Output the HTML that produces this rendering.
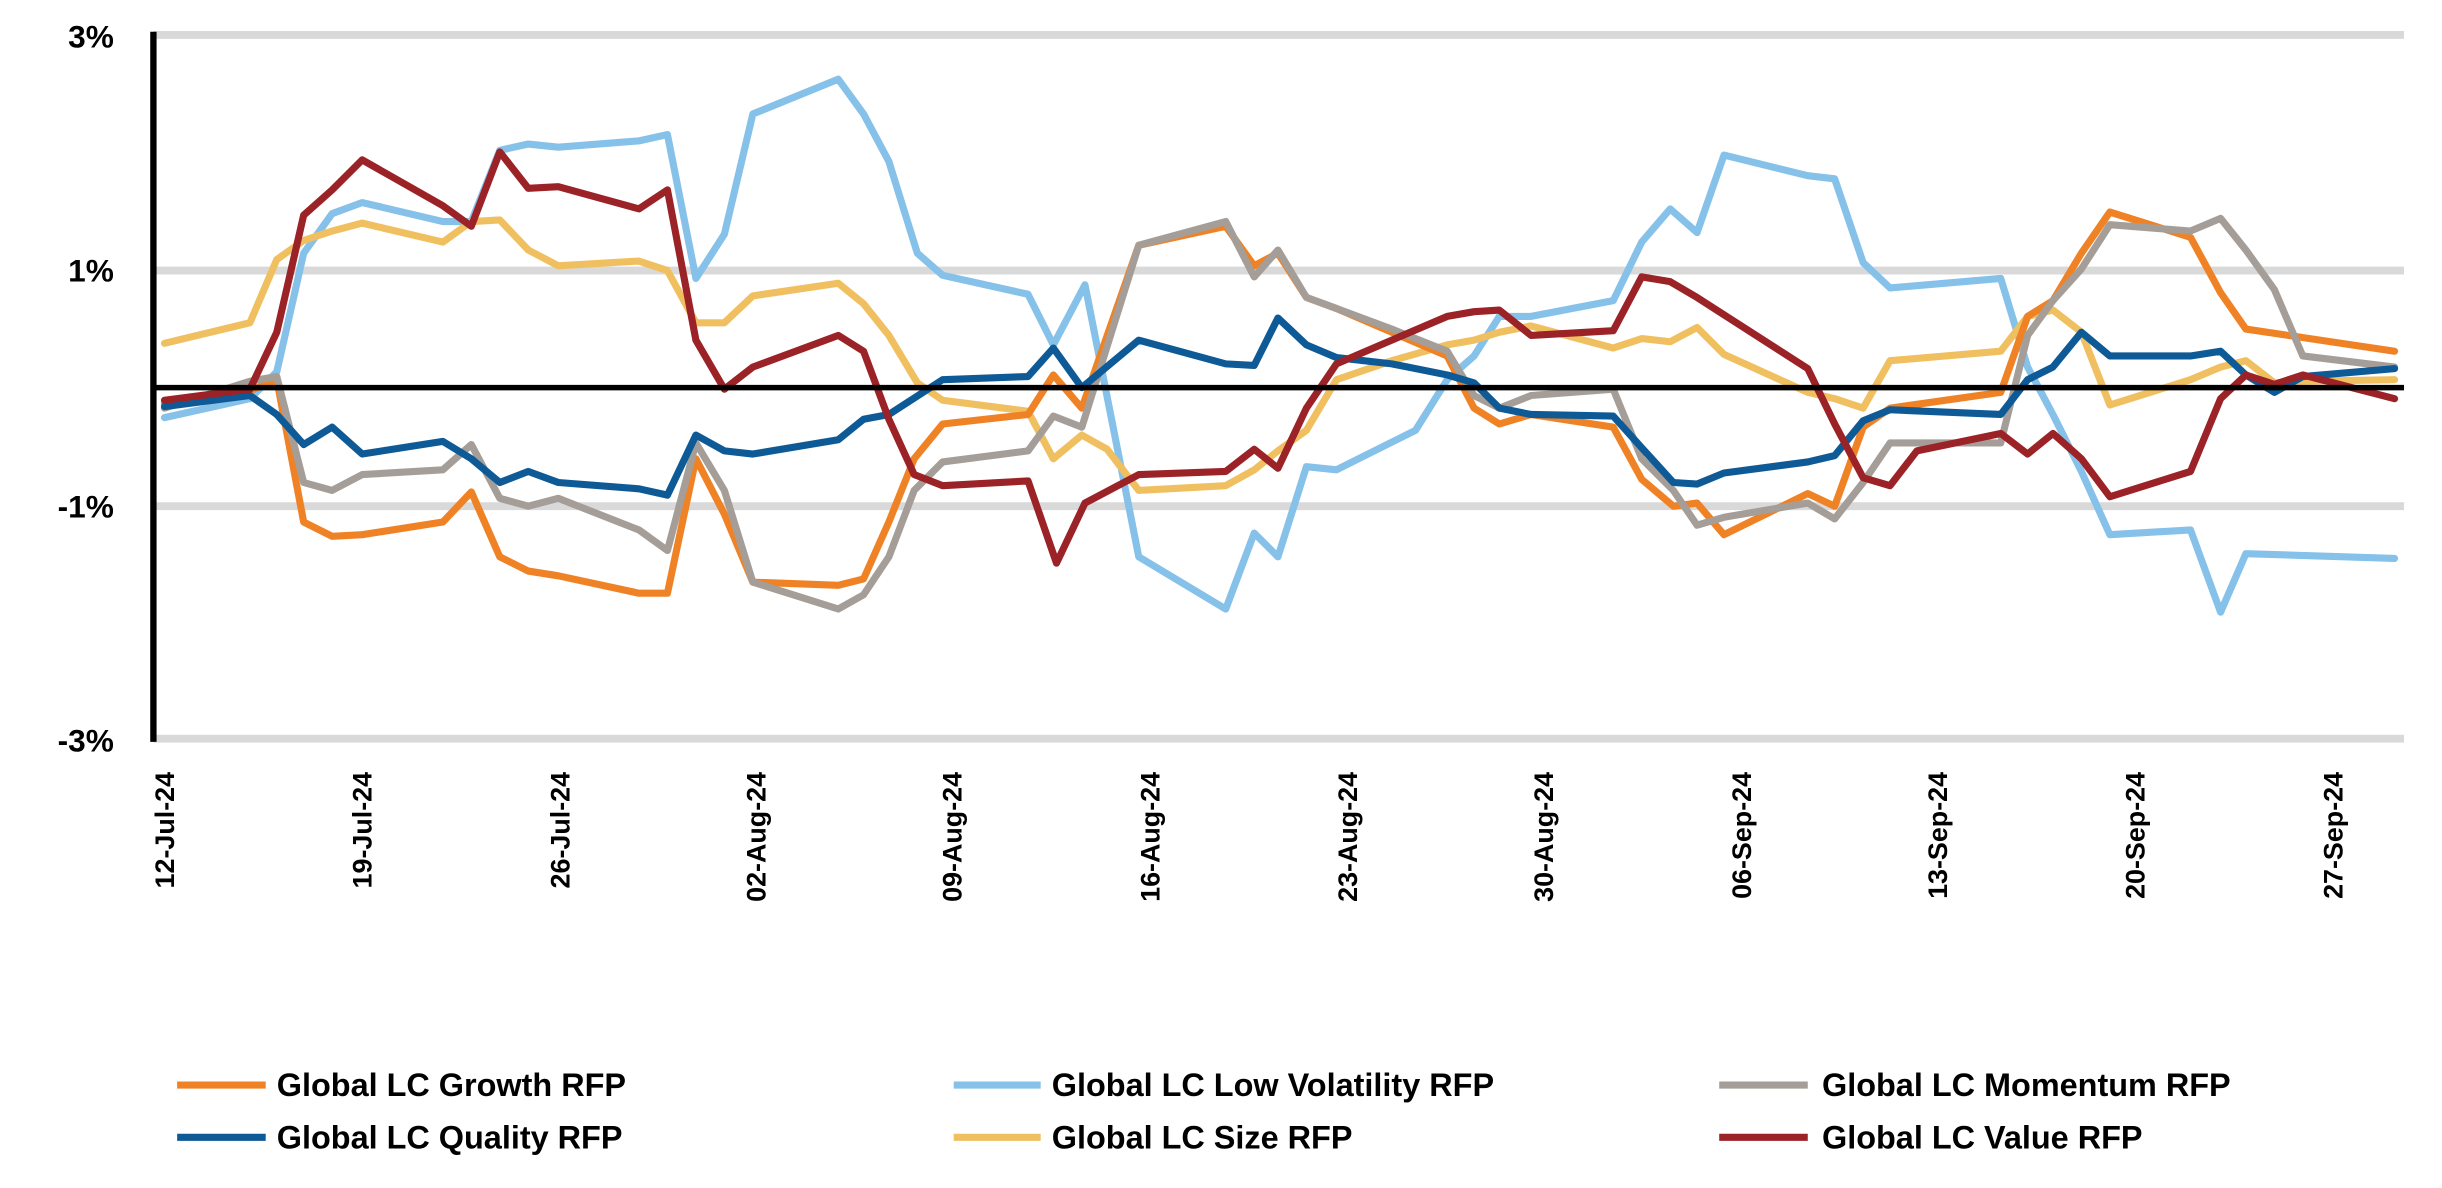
<!DOCTYPE html>
<html><head><style>html,body{margin:0;padding:0;background:#fff}svg{display:block}</style></head>
<body>
<svg width="2442" height="1188" viewBox="0 0 1544 751" xmlns="http://www.w3.org/2000/svg" font-family="Liberation Sans, sans-serif" font-weight="bold">
<g stroke="#d9d9d9" stroke-width="5">
<line x1="97" y1="22" x2="1520" y2="22"/><line x1="97" y1="171" x2="1520" y2="171"/><line x1="97" y1="320" x2="1520" y2="320"/><line x1="97" y1="467" x2="1520" y2="467"/>
</g>
<g font-size="20" text-anchor="end" fill="#000">
<text x="72" y="30">3%</text><text x="72" y="178">1%</text><text x="72" y="327">-1%</text><text x="72" y="475">-3%</text>
</g>
<g fill="none" stroke-width="4.5" stroke-linejoin="round" stroke-linecap="round">
<polyline stroke="#85c1e9" points="104,264 158,252 175,235 192,160 210,135 229,128 280,140 298,140 316,95 334,91 353,93 404,89 422,85 440,176 458,148 476,72 530,50 546,72 562,102 580,160 596,174 650,186 666,218 686,180 720,352 775,385 793,337 808,352 826,295 845,297 895,272 915,240 932,225 948,200 968,200 1020,190 1038,153 1056,132 1073,147 1090,98 1143,111 1160,113 1178,166 1195,182 1265,176 1282,232 1298,262 1316,298 1334,338 1385,335 1404,387 1420,350 1514,353"/>
<polyline stroke="#f0c060" points="104,217 158,204 175,164 192,152 210,146 229,141 280,153 298,140 316,139 334,158 353,168 404,165 422,171 440,204 458,204 476,187 530,179 546,192 562,212 580,242 596,253 650,260 666,290 684,275 700,284 720,310 775,307 793,297 808,285 826,272 845,240 880,228 915,218 932,215 948,210 968,206 1020,220 1038,214 1056,216 1073,207 1090,224 1143,248 1160,252 1178,258 1195,228 1265,222 1282,200 1298,196 1316,210 1334,256 1385,240 1404,232 1420,228 1438,242 1456,241 1514,240"/>
<polyline stroke="#f08226" points="104,255 158,247 175,240 192,330 210,339 229,338 280,330 298,311 316,352 334,361 353,364 404,375 422,375 440,290 458,325 476,368 530,370 546,366 562,330 578,290 596,268 650,262 666,237 684,258 720,155 775,143 793,168 808,160 826,188 845,195 880,210 915,225 932,258 948,268 968,262 1020,270 1038,303 1058,320 1073,318 1090,338 1143,312 1160,320 1178,270 1195,258 1265,248 1282,200 1298,190 1316,160 1334,134 1385,150 1404,185 1420,208 1514,222"/>
<polyline stroke="#a59e98" points="104,258 158,241 175,238 192,305 210,310 229,300 280,297 298,281 316,315 334,320 353,315 404,335 422,348 440,280 458,310 476,368 530,385 546,376 562,352 578,310 596,292 650,285 666,263 684,270 720,155 775,140 793,175 808,158 826,188 845,195 880,208 915,222 932,250 948,258 968,250 1020,246 1038,290 1058,310 1073,332 1090,327 1143,318 1160,328 1178,305 1195,280 1265,280 1282,212 1298,190 1316,170 1334,142 1385,146 1404,138 1420,158 1438,183 1456,225 1514,232"/>
<polyline stroke="#0e5a96" points="104,257 158,250 175,262 192,281 210,270 229,287 280,279 298,290 316,305 334,298 353,305 404,309 422,313 440,275 458,285 476,287 530,278 546,265 562,262 596,240 650,238 666,220 684,245 720,215 775,230 793,231 808,201 826,218 845,226 880,230 915,237 932,242 948,258 968,262 1020,263 1038,283 1058,305 1073,306 1090,299 1143,292 1160,288 1178,266 1195,259 1265,262 1282,240 1298,232 1316,210 1334,225 1385,225 1404,222 1420,237 1438,248 1456,238 1514,233"/>
<polyline stroke="#9b2226" points="104,253 158,246 175,210 192,136 210,120 229,101 280,130 298,143 316,96 334,119 353,118 404,132 422,120 440,215 458,246 476,232 530,212 546,222 562,265 578,300 596,307 650,304 668,356 686,318 720,300 775,298 793,284 808,296 826,258 845,230 880,215 915,200 932,197 948,196 968,212 1020,209 1038,175 1056,178 1073,188 1143,233 1160,268 1178,302 1195,307 1212,285 1265,274 1282,287 1298,274 1316,290 1334,314 1385,298 1404,252 1420,237 1438,243 1456,237 1514,252"/>
</g>
<line x1="97" y1="245" x2="1520" y2="245" stroke="#000" stroke-width="3.5"/>
<line x1="97" y1="20" x2="97" y2="469" stroke="#000" stroke-width="4"/>
<g font-size="17" text-anchor="end" fill="#000">
<text transform="translate(110,488) rotate(-90)">12-Jul-24</text>
<text transform="translate(235,488) rotate(-90)">19-Jul-24</text>
<text transform="translate(360,488) rotate(-90)">26-Jul-24</text>
<text transform="translate(484,488) rotate(-90)">02-Aug-24</text>
<text transform="translate(608,488) rotate(-90)">09-Aug-24</text>
<text transform="translate(733,488) rotate(-90)">16-Aug-24</text>
<text transform="translate(858,488) rotate(-90)">23-Aug-24</text>
<text transform="translate(982,488) rotate(-90)">30-Aug-24</text>
<text transform="translate(1107,488) rotate(-90)">06-Sep-24</text>
<text transform="translate(1231,488) rotate(-90)">13-Sep-24</text>
<text transform="translate(1356,488) rotate(-90)">20-Sep-24</text>
<text transform="translate(1481,488) rotate(-90)">27-Sep-24</text>
</g>
<g stroke-width="4.5">
<line x1="112" y1="686" x2="168" y2="686" stroke="#f08226"/>
<line x1="603" y1="686" x2="658" y2="686" stroke="#85c1e9"/>
<line x1="1087" y1="686" x2="1143" y2="686" stroke="#a59e98"/>
<line x1="112" y1="719" x2="168" y2="719" stroke="#0e5a96"/>
<line x1="603" y1="719" x2="658" y2="719" stroke="#f0c060"/>
<line x1="1087" y1="719" x2="1143" y2="719" stroke="#9b2226"/>
</g>
<g font-size="20.5" fill="#000">
<text x="175" y="693">Global LC Growth RFP</text>
<text x="665" y="693">Global LC Low Volatility RFP</text>
<text x="1152" y="693">Global LC Momentum RFP</text>
<text x="175" y="726">Global LC Quality RFP</text>
<text x="665" y="726">Global LC Size RFP</text>
<text x="1152" y="726">Global LC Value RFP</text>
</g>
</svg>
</body></html>
